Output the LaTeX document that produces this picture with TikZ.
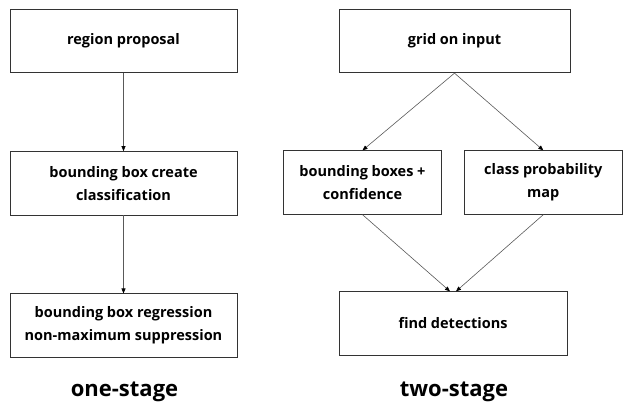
\documentclass[tikz,border=0pt]{standalone}
\usepackage{fontspec}
\setmainfont{Open Sans}
\usepackage{tikz}
\usetikzlibrary{
    arrows.meta,
    positioning
}
\tikzset{
  box/.style   = {draw=black!80, line width=0.8pt, minimum width=227pt,
                  minimum height=63.5pt, inner sep=0pt, align=center,
                  font=\fontsize{14.5}{23}\selectfont\bfseries},
  sbox/.style  = {box, minimum width=158pt},
  stage/.style = {font=\fontsize{22}{26}\selectfont\bfseries}
}
\begin{document}
\begin{tikzpicture}[
    x=1pt, y=1pt,
    arr/.style={-{Triangle[length=5pt,width=4pt,color=black]}, black!65, line width=0.6pt},
    node distance=78pt and 22pt
]
\useasboundingbox (0,0) rectangle (624,-410);

% one-stage
\node[box] (rp) at (123.5,-41) {region proposal};
\node[box, below=of rp] (bbcc) {bounding box create\\classification};
\node[box, below=of bbcc] (bbr) {bounding box regression\\non-maximum suppression};
\node[stage] (one) at (124.5,-392) {one-stage};

\draw[arr] (rp) -- (bbcc);
\draw[arr] (bbcc) -- (bbr);

% two-stage
\node[box, minimum width=231pt] (grid) at (454.5,-41) {grid on input};
\node[sbox] (bbconf) at (362.5,-182.5) {bounding boxes +\\confidence};
\node[sbox, right=of bbconf] (cpm) {class probability\\map};
\node[box, minimum width=228pt] (fd) at (453,-323.5) {find detections};
\node[stage] (two) at (454,-392) {two-stage};

\draw[arr] (grid.south) -- (bbconf.north);
\draw[arr] (grid.south) -- (cpm.north);
\draw[arr] (bbconf.south) -- ([xshift=-3pt]fd.north);
\draw[arr] (cpm.south) -- ([xshift=3pt]fd.north);
\end{tikzpicture}
\end{document}
